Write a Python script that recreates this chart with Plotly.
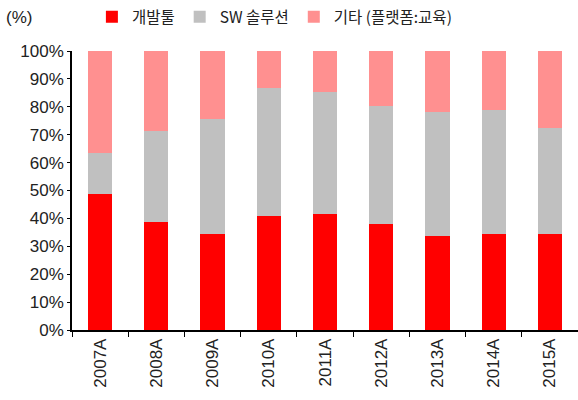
import plotly.graph_objects as go

years = ["2007A", "2008A", "2009A", "2010A", "2011A", "2012A", "2013A", "2014A", "2015A"]
dev_tools = [48.6, 38.7, 34.5, 40.9, 41.7, 38.1, 33.8, 34.5, 34.5]
sw_solution = [14.9, 32.7, 41.2, 45.7, 43.5, 42.1, 44.2, 44.2, 37.8]
others = [36.5, 28.6, 24.3, 13.4, 14.8, 19.8, 22.0, 21.3, 27.7]

names = ["개발툴", "SW 솔루션", "기타 (플랫폼:교육)"]
colors = ["#FF0000", "#C0C0C0", "#FF9090"]
series = [dev_tools, sw_solution, others]

fig = go.Figure()
for n, c, v in zip(names, colors, series):
    fig.add_trace(go.Bar(x=years, y=v, name=n, marker=dict(color=c, line=dict(width=0))))

font_main = "Liberation Sans"
font_kr = "Noto Sans CJK KR"

fig.update_layout(
    barmode="stack",
    bargap=0.57,
    width=578, height=400,
    margin=dict(l=72, r=0, t=51, b=70, autoexpand=False),
    plot_bgcolor="white", paper_bgcolor="white",
    font=dict(family=font_main, size=17, color="#222222"),
    showlegend=True,
    legend=dict(orientation="h", xref="container", yref="container",
                x=0.159, y=0.957, xanchor="left", yanchor="middle",
                font=dict(family=font_kr, size=15.5, color="#222222"),
                itemwidth=30, traceorder="normal", bgcolor="rgba(0,0,0,0)"),
    annotations=[dict(text="(%)", x=-0.135, y=1.12, xref="paper", yref="paper",
                      xanchor="left", yanchor="middle", showarrow=False,
                      font=dict(family=font_main, size=17, color="#222222"))],
)
fig.update_yaxes(range=[0, 100], dtick=10, ticksuffix="%", showgrid=False,
                 showline=True, linecolor="black", linewidth=1.5,
                 ticks="outside", ticklen=3, tickcolor="black", zeroline=False,
                 automargin=False, tickfont=dict(family=font_main, size=17))
fig.update_xaxes(showline=True, linecolor="black", linewidth=1.5,
                 ticks="outside", ticklen=5, tickcolor="black", tickson="boundaries",
                 tickangle=-90, automargin=False,
                 tickfont=dict(family=font_main, size=17))

fig.write_html("out.html", config={"displayModeBar": False},
               post_script="document.body.style.margin='0';")
